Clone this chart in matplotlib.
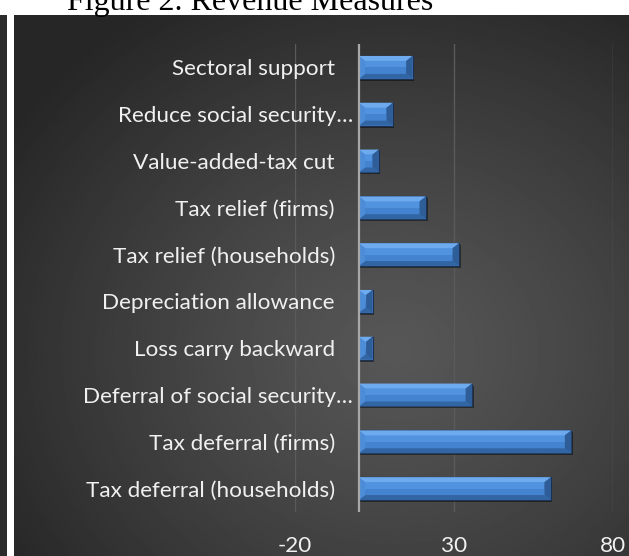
import matplotlib
matplotlib.use("Agg")
import matplotlib.pyplot as plt
import numpy as np
from matplotlib.patches import Polygon, Rectangle

# revenue measures, listed top to bottom
categories = [
    "Sectoral support",
    "Reduce social security…",
    "Value-added-tax cut",
    "Tax relief (firms)",
    "Tax relief (households)",
    "Depreciation allowance",
    "Loss carry backward",
    "Deferral of social security…",
    "Tax deferral (firms)",
    "Tax deferral (households)",
]
values = [17.0, 10.8, 6.4, 21.2, 31.6, 4.4, 4.4, 35.7, 66.9, 60.5]
x_ticks = [-20, 30, 80]
title = "Figure 2. Revenue Measures"

W, H = 629, 556
DPI = 100
LABEL_FONT = "Lato"
LABEL_SIZE = 16.2
TEXT_COLOR = "#f0f0f0"


def radial_background(fig):
    """Dark panel with a soft radial highlight, plus the thin strip on the left."""
    panel_top = 15
    bg = fig.add_axes([14 / W, 0, 1 - 14 / W, (H - panel_top) / H], zorder=0)
    yy, xx = np.mgrid[0:1:300j, 0:1:340j]
    r = np.sqrt(((xx - 0.62) / 0.75) ** 2 + ((yy - 0.62) / 0.75) ** 2)
    shade = 0.34 - 0.19 * np.clip(r, 0, 1) ** 1.2
    bg.imshow(shade, cmap="gray", vmin=0, vmax=1, aspect="auto", origin="upper",
              extent=[0, 1, 0, 1], interpolation="bilinear")
    bg.set_axis_off()

    strip = fig.add_axes([0, 0, 7 / W, (H - panel_top) / H], zorder=0)
    strip.set_facecolor("#2b2b2b")
    strip.set_xticks([])
    strip.set_yticks([])
    for s in strip.spines.values():
        s.set_visible(False)


def bevel_bar(ax, y, w, h, bx, by):
    """Paint the bevel facets on top of a bar spanning 0..w (y axis inverted)."""
    yt, yb = y - h / 2, y + h / 2
    bx = min(bx, w / 2)
    facets = [
        ([(0, yt), (w, yt), (w - bx, yt + by), (bx, yt + by)], "#6eaaee"),
        ([(0, yb), (w, yb), (w - bx, yb - by), (bx, yb - by)], "#3265a3"),
        ([(0, yt), (bx, yt + by), (bx, yb - by), (0, yb)], "#4d8cd7"),
        ([(w, yt), (w - bx, yt + by), (w - bx, yb - by), (w, yb)], "#2e5d98"),
    ]
    mid = (yt + yb) / 2
    if w - 2 * bx > 0:
        ax.add_patch(Rectangle((bx, yt + by), w - 2 * bx, mid - yt - by,
                               color="#5293df", lw=0, zorder=4))
        ax.add_patch(Rectangle((bx, mid), w - 2 * bx, yb - by - mid,
                               color="#4383cf", lw=0, zorder=4))
    for pts, c in facets:
        ax.add_patch(Polygon(pts, closed=True, color=c, lw=0, zorder=4))


fig = plt.figure(figsize=(W / DPI, H / DPI), dpi=DPI, facecolor="white")
radial_background(fig)

fig.text(250 / W, 1 - 10 / H, title, ha="center", va="baseline",
         fontsize=23, family="Liberation Serif", color="black")

ax = fig.add_axes([295 / W, 44 / H, (613 - 295) / W, (512 - 44) / H], zorder=2)
ax.set_facecolor("none")
ypos = np.arange(len(categories))
bar_h = 0.49

ax.set_xlim(x_ticks[0], x_ticks[-1])
ax.set_ylim(len(categories) - 0.5, -0.5)

# pixel -> data conversion for the bevel and shadow sizes
x_px = ax.transData.transform((1, 0))[0] - ax.transData.transform((0, 0))[0]
y_px = abs(ax.transData.transform((0, 1))[1] - ax.transData.transform((0, 0))[1])
bx, by = 6.5 / x_px, 5.0 / y_px

# drop shadow, then the base bars, then bevel facets
ax.barh(ypos + 2.0 / y_px, values, left=1.5 / x_px, height=bar_h,
        color="black", alpha=0.45, lw=0, zorder=3)
ax.barh(ypos, values, height=bar_h, color="#4786d2",
        edgecolor="#1c3152", lw=0.8, zorder=3)
for yi, v in zip(ypos, values):
    bevel_bar(ax, yi, v, bar_h, bx, by)

for s in ax.spines.values():
    s.set_visible(False)
ax.set_yticks([])
ax.set_xticks(x_ticks)
ax.set_xticklabels([str(t) for t in x_ticks])
ax.tick_params(axis="x", length=0, pad=17, labelsize=LABEL_SIZE, labelcolor=TEXT_COLOR)
for lab in ax.get_xticklabels():
    lab.set_family(LABEL_FONT)
for t in x_ticks:
    ax.axvline(t, color="#5a5a5a", lw=1.0, zorder=1)
ax.axvline(0, color="#a8a8a8", lw=1.6, zorder=5)

# truncated labels run closer to the axis line
for yi, name in zip(ypos, categories):
    offset = -4 if name.endswith("…") else -17
    ax.annotate(name, xy=(0, yi), xytext=(offset, 0), textcoords="offset points",
                ha="right", va="center_baseline", fontsize=LABEL_SIZE,
                family=LABEL_FONT, color=TEXT_COLOR, zorder=6)

fig.savefig("out.png", dpi=DPI, facecolor="white")
